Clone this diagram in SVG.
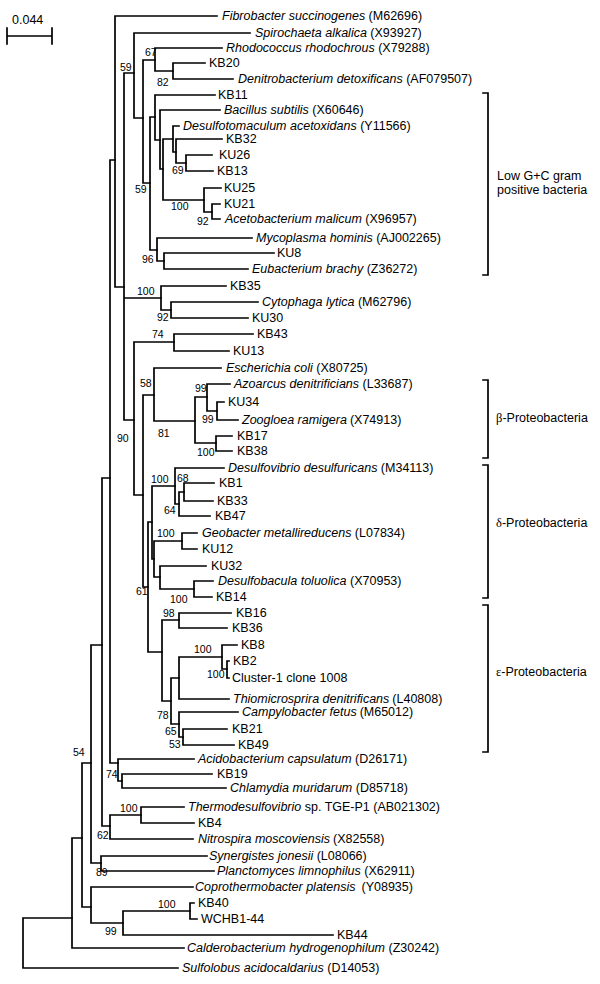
<svg xmlns="http://www.w3.org/2000/svg" width="600" height="984" viewBox="0 0 600 984">
<style>
.br{stroke:#000;stroke-width:1.7;fill:none;stroke-linecap:square}
text{font-family:"Liberation Sans",Arial,sans-serif;font-size:12.5px;fill:#000}
.i{font-style:italic}
.bs text{font-size:10.5px}
.g{font-family:"Liberation Serif","Times New Roman",serif}
</style>
<rect width="600" height="984" fill="#fff"/>
<g id="scale">
<text x="12" y="24">0.044</text>
<path class="br" d="M7,36H52M7,28V44M52,28V44"/>
</g>
<g id="connectors" class="br">
<path d="M23,918V968M23,918H72M23,968H178"/>
<path d="M72,838V948M72,838H82M72,948H184"/>
<path d="M82,763V907M82,763H91M82,907H91"/>
<path d="M91,887V923M91,887H193M91,923H123"/>
<path d="M123,911V935M123,911H190M123,935H333"/>
<path d="M190,903V919M190,903H194M190,919H197"/>
<path d="M91,645V863M91,645H102M91,863H101"/>
<path d="M101,856V871M101,856H207M101,871H214"/>
<path d="M102,478V826M102,478H110M102,826H110"/>
<path d="M110,815V839M110,815H141M110,839H193"/>
<path d="M141,807V823M141,807H184M141,823H194"/>
<path d="M110,160V763M110,160H115M110,763H118"/>
<path d="M118,759V781M118,759H194M118,781H122"/>
<path d="M122,774V788M122,774H212M122,788H226"/>
<path d="M115,16V287M115,16H217M115,287H124"/>
<path d="M124,73V420M124,73H134M124,298H161M124,420H134"/>
<path d="M134,33V118M134,33H250M134,118H143"/>
<path d="M143,60V183M143,60H155M143,183H150"/>
<path d="M155,48V71M155,48H222M155,71H173"/>
<path d="M173,63V79M173,63H205M173,79H233"/>
<path d="M150,117V250M150,117H155M150,250H157"/>
<path d="M155,95V140M155,95H215M155,140H160"/>
<path d="M160,110V169M160,110H220M160,169H163"/>
<path d="M163,139V200M163,139H173M163,200H204"/>
<path d="M173,126V152M173,126H179M173,152H176"/>
<path d="M176,139V163M176,139H222M176,163H186"/>
<path d="M186,155V171M186,155H212M186,171H213"/>
<path d="M204,188V212M204,188H221M204,212H212"/>
<path d="M212,204V219M212,204H220M212,219H220"/>
<path d="M157,238V261M157,238H252M157,261H164"/>
<path d="M164,253V269M164,253H274M164,269H248"/>
<path d="M161,286V310M161,286H226M161,310H171"/>
<path d="M171,302V318M171,302H258M171,318H248"/>
<path d="M134,342V495M134,342H174M134,495H143"/>
<path d="M174,334V351M174,334H253M174,351H229"/>
<path d="M143,395V587M143,395H154M143,587H148"/>
<path d="M154,368V421M154,368H221M154,421H195"/>
<path d="M195,397V443M195,397H207M195,443H216"/>
<path d="M207,384V411M207,384H230M207,411H217"/>
<path d="M217,402V420M217,402H224M217,420H238"/>
<path d="M216,436V451M216,436H232M216,451H232"/>
<path d="M148,522V652M148,522H152M148,652H162"/>
<path d="M152,486V559M152,486H175M152,559H154"/>
<path d="M175,468V504M175,468H224M175,504H179"/>
<path d="M179,492V516M179,492H184M179,516H210"/>
<path d="M184,483V501M184,483H214M184,501H213"/>
<path d="M154,541V577M154,541H182M154,577H160"/>
<path d="M182,533V549M182,533H197M182,549H197"/>
<path d="M160,566V589M160,566H206M160,589H194"/>
<path d="M194,581V597M194,581H213M194,597H212"/>
<path d="M162,620V701M162,620H179M162,701H171"/>
<path d="M179,613V628M179,613H231M179,628H227"/>
<path d="M171,678V724M171,678H179M171,724H179"/>
<path d="M179,657V699M179,657H222M179,699H229"/>
<path d="M222,645V669M222,645H237M222,669H227"/>
<path d="M227,661V678M227,661H229M227,678H229"/>
<path d="M179,712V737M179,712H238M179,737H183"/>
<path d="M183,729V745M183,729H227M183,745H234"/>
</g>
<g id="leaves">
<g id="n1"><text x="222" y="20"><tspan class="i">Fibrobacter succinogenes</tspan> (M62696)</text></g>
<g id="n2"><text x="255" y="37"><tspan class="i">Spirochaeta alkalica</tspan> (X93927)</text></g>
<g id="n3"><text x="226" y="52"><tspan class="i">Rhodococcus rhodochrous</tspan> (X79288)</text></g>
<g id="n4"><text x="209" y="67">KB20</text></g>
<g id="n5"><text x="238" y="83"><tspan class="i">Denitrobacterium detoxificans</tspan> (AF079507)</text></g>
<g id="n6"><text x="218" y="99">KB11</text></g>
<g id="n7"><text x="224" y="114"><tspan class="i">Bacillus subtilis</tspan> (X60646)</text></g>
<g id="n8"><text x="183" y="130"><tspan class="i">Desulfotomaculum acetoxidans</tspan> (Y11566)</text></g>
<g id="n9"><text x="226" y="143">KB32</text></g>
<g id="n10"><text x="219" y="159">KU26</text></g>
<g id="n11"><text x="217" y="175">KB13</text></g>
<g id="n12"><text x="224" y="192">KU25</text></g>
<g id="n13"><text x="224" y="208">KU21</text></g>
<g id="n14"><text x="225" y="223"><tspan class="i">Acetobacterium malicum</tspan> (X96957)</text></g>
<g id="n15"><text x="256" y="242"><tspan class="i">Mycoplasma hominis</tspan> (AJ002265)</text></g>
<g id="n16"><text x="277" y="257">KU8</text></g>
<g id="n17"><text x="252" y="273"><tspan class="i">Eubacterium brachy</tspan> (Z36272)</text></g>
<g id="n18"><text x="230" y="290">KB35</text></g>
<g id="n19"><text x="262" y="306"><tspan class="i">Cytophaga lytica</tspan> (M62796)</text></g>
<g id="n20"><text x="252" y="322">KU30</text></g>
<g id="n21"><text x="257" y="338">KB43</text></g>
<g id="n22"><text x="233" y="355">KU13</text></g>
<g id="n23"><text x="226" y="372"><tspan class="i">Escherichia coli</tspan> (X80725)</text></g>
<g id="n24"><text x="234" y="388"><tspan class="i">Azoarcus denitrificians</tspan> (L33687)</text></g>
<g id="n25"><text x="228" y="406">KU34</text></g>
<g id="n26"><text x="242" y="424"><tspan class="i">Zoogloea ramigera</tspan><tspan dx="3">(X74913)</tspan></text></g>
<g id="n27"><text x="237" y="440">KB17</text></g>
<g id="n28"><text x="237" y="455">KB38</text></g>
<g id="n29"><text x="228" y="472"><tspan class="i">Desulfovibrio desulfuricans</tspan> (M34113)</text></g>
<g id="n30"><text x="219" y="487">KB1</text></g>
<g id="n31"><text x="217" y="505">KB33</text></g>
<g id="n32"><text x="215" y="520">KB47</text></g>
<g id="n33"><text x="202" y="537"><tspan class="i">Geobacter metallireducens</tspan> (L07834)</text></g>
<g id="n34"><text x="202" y="553">KU12</text></g>
<g id="n35"><text x="211" y="570">KU32</text></g>
<g id="n36"><text x="218" y="585"><tspan class="i">Desulfobacula toluolica</tspan> (X70953)</text></g>
<g id="n37"><text x="216" y="601">KB14</text></g>
<g id="n38"><text x="236" y="617">KB16</text></g>
<g id="n39"><text x="232" y="632">KB36</text></g>
<g id="n40"><text x="241" y="649">KB8</text></g>
<g id="n41"><text x="233" y="665">KB2</text></g>
<g id="n42"><text x="232" y="682">Cluster-1 clone 1008</text></g>
<g id="n43"><text x="233" y="703"><tspan class="i">Thiomicrosprira denitrificans</tspan><tspan dx="3">(L40808)</tspan></text></g>
<g id="n44"><text x="242" y="716"><tspan class="i">Campylobacter fetus</tspan><tspan dx="3">(M65012)</tspan></text></g>
<g id="n45"><text x="232" y="733">KB21</text></g>
<g id="n46"><text x="238" y="749">KB49</text></g>
<g id="n47"><text x="198" y="763"><tspan class="i">Acidobacterium capsulatum</tspan> (D26171)</text></g>
<g id="n48"><text x="217" y="778">KB19</text></g>
<g id="n49"><text x="230" y="792"><tspan class="i">Chlamydia muridarum</tspan> (D85718)</text></g>
<g id="n50"><text x="188" y="811"><tspan class="i">Thermodesulfovibrio</tspan> sp. TGE-P1 (AB021302)</text></g>
<g id="n51"><text x="198" y="827">KB4</text></g>
<g id="n52"><text x="198" y="843"><tspan class="i">Nitrospira moscoviensis</tspan><tspan dx="3">(X82558)</tspan></text></g>
<g id="n53"><text x="209" y="860"><tspan class="i">Synergistes jonesii</tspan> (L08066)</text></g>
<g id="n54"><text x="217" y="875"><tspan class="i">Planctomyces limnophilus</tspan> (X62911)</text></g>
<g id="n55"><text x="195" y="891"><tspan class="i">Coprothermobacter platensis</tspan><tspan dx="6">(Y08935)</tspan></text></g>
<g id="n56"><text x="198" y="907">KB40</text></g>
<g id="n57"><text x="201" y="923">WCHB1-44</text></g>
<g id="n58"><text x="337" y="939">KB44</text></g>
<g id="n59"><text x="187" y="952"><tspan class="i">Calderobacterium hydrogenophilum</tspan> (Z30242)</text></g>
<g id="n60"><text x="182" y="972"><tspan class="i">Sulfolobus acidocaldarius</tspan> (D14053)</text></g>
</g>
<g id="bootstrap" class="bs">
<text x="120" y="71">59</text>
<text x="145" y="56">67</text>
<text x="157" y="86">82</text>
<text x="172" y="174">69</text>
<text x="135" y="193">59</text>
<text x="171" y="210">100</text>
<text x="197" y="225">92</text>
<text x="142" y="263">96</text>
<text x="137" y="295">100</text>
<text x="157" y="321">92</text>
<text x="152" y="338">74</text>
<text x="140" y="387">58</text>
<text x="195" y="392">99</text>
<text x="202" y="423">99</text>
<text x="158" y="437">81</text>
<text x="117" y="442">90</text>
<text x="197" y="456">100</text>
<text x="151" y="483">100</text>
<text x="177" y="482">68</text>
<text x="164" y="514">64</text>
<text x="157" y="537">100</text>
<text x="136" y="595">61</text>
<text x="170" y="603">100</text>
<text x="163" y="617">98</text>
<text x="194" y="653">100</text>
<text x="207" y="678">100</text>
<text x="157" y="719">78</text>
<text x="165" y="735">65</text>
<text x="169" y="748">53</text>
<text x="73" y="756">54</text>
<text x="106" y="778">74</text>
<text x="120" y="812">100</text>
<text x="97" y="839">62</text>
<text x="96" y="876">89</text>
<text x="158" y="908">100</text>
<text x="105" y="935">99</text>
</g>
<g id="groups">
<g id="lowgc"><path class="br" d="M483,93H488V275H483"/><text x="497" y="180">Low G+C gram</text><text x="497" y="194">positive bacteria</text></g>
<g id="beta"><path class="br" d="M483,380H488V458H483"/><text x="496" y="422"><tspan class="g">β</tspan>-Proteobacteria</text></g>
<g id="delta"><path class="br" d="M483,465H488V598H483"/><text x="496" y="527"><tspan class="g">δ</tspan>-Proteobacteria</text></g>
<g id="eps"><path class="br" d="M483,605H488V752H483"/><text x="496" y="676"><tspan class="g">ε</tspan>-Proteobacteria</text></g>
</g>
</svg>
